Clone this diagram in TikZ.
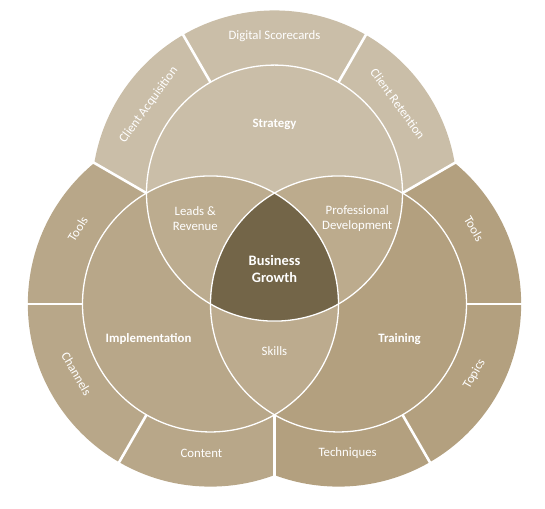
\documentclass[tikz,border=0pt]{standalone}
\usepackage{fontspec}
\setmainfont{Carlito}
\usetikzlibrary{calc}
\definecolor{stratfill}{HTML}{CABEA8}
\definecolor{implfill}{HTML}{B8A789}
\definecolor{trainfill}{HTML}{B3A07F}
\definecolor{leadsfill}{HTML}{BCAC8F}
\definecolor{profill}{HTML}{BCAB8D}
\definecolor{skillfill}{HTML}{BCAB8E}
\definecolor{corefill}{HTML}{736548}
\tikzset{
  ringlabel/.style = {text=white, font=\fontsize{12.8}{15}\selectfont,
                      align=center, inner sep=0pt},
  arealabel/.style = {ringlabel},
  mainlabel/.style = {ringlabel, font=\fontsize{12.8}{15}\selectfont\bfseries},
  corelabel/.style = {ringlabel, font=\fontsize{14.4}{16.7}\selectfont\bfseries},
  venn/.style      = {draw=white, line width=1.3pt},
  cut/.style       = {draw=white, line width=2.6pt},
}

\begin{document}
\begin{tikzpicture}[x=128pt, y=128pt]
    \useasboundingbox (-2.1445,-1.8828) rectangle (2.1133,2.0859);
    \def\rout{1.427}
    \def\rcut{1.6}
    \coordinate (g)  at (0,0);
    \coordinate (ct) at (90:0.5774);
    \coordinate (cl) at (210:0.5774);
    \coordinate (cr) at (330:0.5774);

    % outer rings, each cut to its own wedge
    \begin{scope}
        \clip (g) -- (30:4) -- (90:4) -- (150:4) -- cycle;
        \fill[stratfill] (ct) circle (\rout);
    \end{scope}
    \begin{scope}
        \clip (g) -- (150:4) -- (210:4) -- (270:4) -- cycle;
        \fill[implfill] (cl) circle (\rout);
    \end{scope}
    \begin{scope}
        \clip (g) -- (270:4) -- (330:4) -- (30:4) -- cycle;
        \fill[trainfill] (cr) circle (\rout);
    \end{scope}

    % the three circles and their overlaps
    \fill[stratfill] (ct) circle (1);
    \fill[implfill]  (cl) circle (1);
    \fill[trainfill] (cr) circle (1);
    \begin{scope}
        \clip (ct) circle (1);
        \fill[leadsfill] (cl) circle (1);
    \end{scope}
    \begin{scope}
        \clip (ct) circle (1);
        \fill[profill] (cr) circle (1);
    \end{scope}
    \begin{scope}
        \clip (cl) circle (1);
        \fill[skillfill] (cr) circle (1);
    \end{scope}
    \begin{scope}
        \clip (ct) circle (1);
        \clip (cl) circle (1);
        \fill[corefill] (cr) circle (1);
    \end{scope}
    \draw[venn] (ct) circle (1);
    \draw[venn] (cl) circle (1);
    \draw[venn] (cr) circle (1);

    % white cuts between the ring segments
    \foreach \a in {30,150,270}
        \draw[cut] (\a:1.1547) -- (\a:2.2);
    \foreach \a in {60,120}
        \draw[cut] ($(ct)+(\a:1)$) -- ($(ct)+(\a:\rcut)$);
    \foreach \a in {180,240}
        \draw[cut] ($(cl)+(\a:1)$) -- ($(cl)+(\a:\rcut)$);
    \foreach \a in {0,300}
        \draw[cut] ($(cr)+(\a:1)$) -- ($(cr)+(\a:\rcut)$);

    % labels inside the circles
    \node[mainlabel] (strategy) at (0,1.115)         {Strategy};
    \node[arealabel] (leads)    at (-0.619,0.377)    {Leads \&\\Revenue};
    \node[arealabel] (profdev)  at (0.646,0.377)     {Professional\\Development};
    \node[corelabel] (growth)   at (0,-0.018)        {Business\\Growth};
    \node[mainlabel] (impl)     at (-0.984,-0.5625)  {Implementation};
    \node[mainlabel] (train)    at (0.977,-0.5625)   {Training};
    \node[arealabel] (skills)   at (0,-0.656)        {Skills};

    % labels on the rings
    \node[ringlabel, rotate=54]  (acquire) at ($(ct)+(145:1.2)$)    {Client Acquisition};
    \node[ringlabel]             (cards)   at ($(ct)+(90:1.228)$)   {Digital Scorecards};
    \node[ringlabel, rotate=-54] (retain)  at ($(ct)+(36:1.19)$)    {Client Retention};
    \node[ringlabel, rotate=58]  (toolsl)  at ($(cl)+(150.6:1.19)$) {Tools};
    \node[ringlabel, rotate=-60] (chan)    at ($(cl)+(207.6:1.18)$) {Channels};
    \node[ringlabel]             (content) at ($(cl)+(266.5:1.166)$) {Content};
    \node[ringlabel, rotate=-60] (toolsr)  at ($(cr)+(29:1.21)$)    {Tools};
    \node[ringlabel, rotate=60]  (topics)  at ($(cr)+(-27.2:1.195)$) {Topics};
    \node[ringlabel]             (tech)    at ($(cr)+(273.5:1.166)$) {Techniques};
\end{tikzpicture}
\end{document}
